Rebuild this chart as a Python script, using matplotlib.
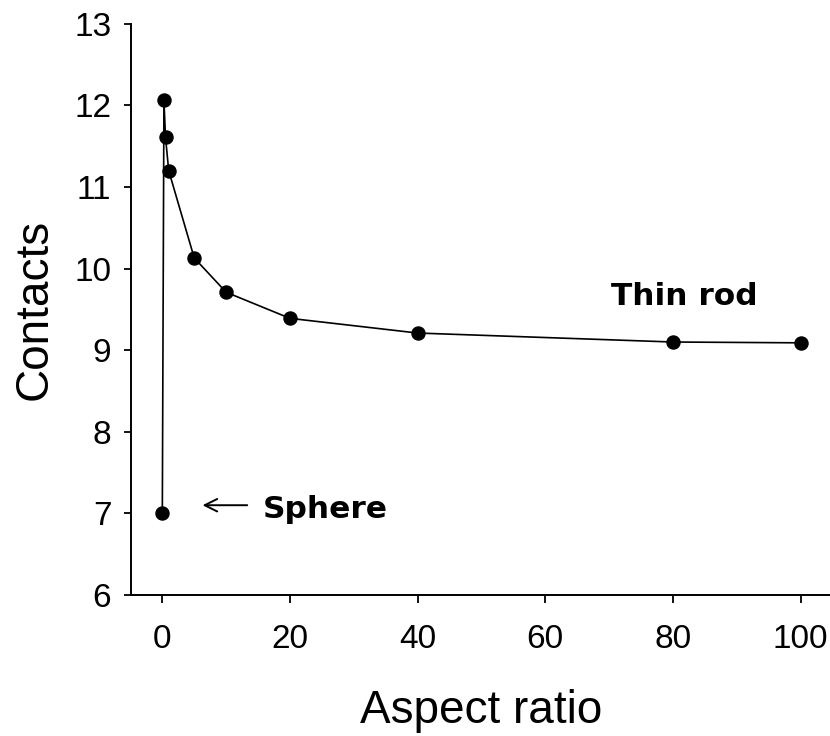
import matplotlib
matplotlib.use("Agg")
import matplotlib.pyplot as plt

# Mean contact number versus particle aspect ratio
aspect_ratio = [0, 0.25, 0.5, 1, 5, 10, 20, 40, 80, 100]
contacts = [7.0, 12.06, 11.61, 11.2, 10.13, 9.71, 9.39, 9.21, 9.10, 9.09]

x_ticks = [0, 20, 40, 60, 80, 100]
y_ticks = [6, 7, 8, 9, 10, 11, 12, 13]

fig = plt.figure(figsize=(8.30, 7.36), dpi=100)
ax = fig.add_axes([0.1575, 0.1916, 0.8425, 0.7761])

ax.plot(aspect_ratio, contacts, color="black", linewidth=1.2,
        marker="o", markersize=9.4, markerfacecolor="black",
        markeredgecolor="black", clip_on=False)

ax.set_xlim(-4.95, 104.6)
ax.set_ylim(6, 13)
ax.set_xticks(x_ticks)
ax.set_yticks(y_ticks)

for side in ("top", "right"):
    ax.spines[side].set_visible(False)
for side in ("left", "bottom"):
    ax.spines[side].set_linewidth(1.4)

tick_font = {"family": "Liberation Sans", "size": 24}
ax.set_xticklabels([str(t) for t in x_ticks], fontdict=tick_font)
ax.set_yticklabels([str(t) for t in y_ticks], fontdict=tick_font)
ax.tick_params(axis="x", direction="out", length=6, width=1.3, pad=15)
ax.tick_params(axis="y", direction="out", length=5, width=1.3, pad=9)

label_font = {"family": "Liberation Sans", "size": 33}
ax.set_xlabel("Aspect ratio", fontdict=label_font)
ax.set_ylabel("Contacts", fontdict=label_font)
ax.xaxis.set_label_coords(0.501, -0.203)
ax.xaxis.label.set_verticalalignment("center")
ax.yaxis.set_label_coords(-0.138, 0.50)
ax.yaxis.label.set_verticalalignment("center")

# Annotations for the two limiting shapes
ax.annotate("", xy=(6.3, 7.10), xytext=(13.3, 7.10),
            arrowprops=dict(arrowstyle="->,head_length=0.9,head_width=0.45",
                            color="black", linewidth=1.4,
                            shrinkA=0, shrinkB=0))
ax.text(15.7, 6.944, "Sphere", family="DejaVu Sans", weight="bold",
        fontsize=22.5, ha="left", va="baseline")
ax.text(70.3, 9.554, "Thin rod", family="DejaVu Sans", weight="bold",
        fontsize=22.5, ha="left", va="baseline")

fig.savefig("out.png", dpi=100)
